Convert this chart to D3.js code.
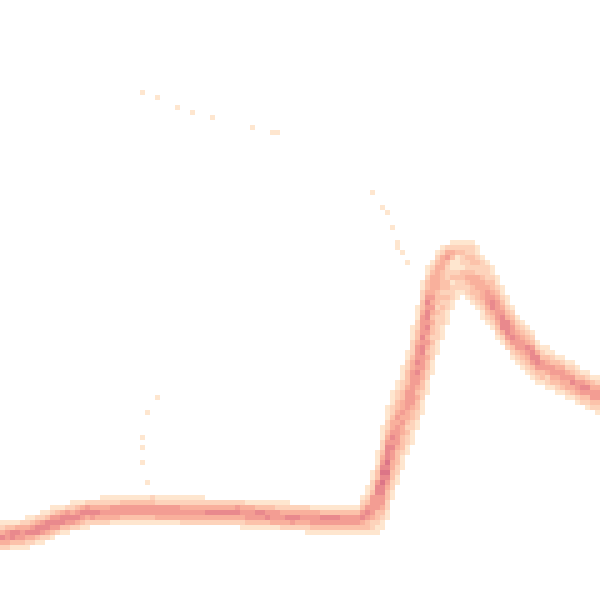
<!DOCTYPE html>
<html>
<head>
<meta charset="utf-8">
<script src="https://cdn.jsdelivr.net/npm/d3@7"></script>
<style>
  html, body { margin: 0; padding: 0; background: #ffffff; }
  svg { display: block; }
</style>
</head>
<body>
<svg id="chart" width="600" height="600"></svg>
<script>
// ---- DATA ----
// shared time stamps for the bundle of series
const times = [0, 6, 12, 18, 26, 36, 46, 56, 64, 72, 74, 76, 78, 80, 82, 84, 86, 88, 90, 92, 94, 96, 98, 102, 108, 114, 120];

const series1  = [10.5, 11.5, 13.9, 15.6, 16.0, 15.8, 15.6, 14.8, 14.2, 14.0, 14.1, 14.6, 21.6, 28.0, 32.6, 38.4, 47.5, 53.5, 60.0, 62.2, 60.8, 58.6, 56.4, 50.6, 44.0, 41.2, 37.9];
const series2  = [11.1, 12.1, 14.5, 16.2, 16.6, 16.4, 16.2, 15.4, 14.8, 14.6, 14.6, 16.5, 24.0, 30.3, 35.0, 41.3, 50.5, 57.0, 61.8, 63.2, 62.0, 59.8, 57.6, 51.4, 45.0, 42.0, 38.7];
const series3  = [11.7, 12.7, 15.1, 16.7, 17.1, 16.9, 16.7, 15.9, 15.3, 15.1, 15.6, 18.1, 26.0, 32.2, 37.0, 43.7, 53.5, 60.0, 63.4, 64.2, 63.4, 61.0, 58.6, 52.2, 45.8, 42.7, 39.4];
const series4  = [12.1, 13.1, 15.5, 17.1, 17.5, 17.3, 17.1, 16.3, 15.7, 15.5, 16.5, 19.6, 27.8, 33.9, 38.8, 45.8, 56.0, 62.2, 64.6, 64.8, 64.2, 62.2, 59.6, 52.8, 46.5, 43.4, 40.0];
const series5  = [12.4, 13.4, 15.8, 17.4, 17.8, 17.6, 17.4, 16.6, 16.0, 15.8, 17.1, 20.5, 29.0, 35.0, 40.0, 47.3, 58.0, 63.6, 65.2, 65.0, 64.6, 62.8, 60.2, 53.3, 47.0, 43.8, 40.4];
const series6  = [12.7, 13.7, 16.1, 17.7, 18.1, 17.9, 17.7, 16.9, 16.3, 16.1, 17.6, 21.3, 30.0, 36.0, 41.0, 48.5, 59.5, 64.8, 67.8, 67.0, 65.4, 63.2, 60.6, 53.8, 47.4, 44.1, 40.7];
const series7  = [13.0, 14.0, 16.4, 18.0, 18.4, 18.2, 18.0, 17.2, 16.6, 16.4, 18.1, 22.1, 31.0, 36.9, 42.0, 49.7, 60.8, 65.8, 69.2, 68.6, 66.6, 64.0, 61.4, 54.4, 47.8, 44.5, 41.1];
const series8  = [13.3, 14.3, 16.7, 18.3, 18.7, 18.5, 18.3, 17.5, 16.9, 16.7, 18.8, 23.2, 32.4, 38.3, 43.4, 51.4, 62.4, 66.6, 69.6, 69.6, 68.0, 65.2, 62.4, 55.2, 48.3, 45.0, 41.5];
const series9  = [13.9, 14.9, 17.3, 18.8, 19.2, 19.0, 18.8, 18.0, 17.4, 17.2, 19.8, 24.8, 34.4, 40.2, 45.4, 53.8, 64.2, 67.6, 70.0, 70.6, 69.6, 66.8, 64.0, 56.2, 49.1, 45.7, 42.2];
const series10 = [14.6, 15.6, 18.0, 19.5, 19.9, 19.7, 19.5, 18.7, 18.1, 17.9, 21.2, 27.1, 37.2, 42.8, 48.2, 57.1, 66.0, 68.6, 70.4, 71.2, 70.6, 68.4, 66.0, 57.6, 50.2, 46.7, 43.2];

// one stray series, recorded only at sparse samples: [time, value]
const outlierSamples = [
  [30.0, 21.0], [29.6, 24.0], [28.6, 27.2], [28.6, 31.0], [28.6, 33.0], [29.6, 37.4], [31.0, 40.6],
  [28.6, 101.4], [31.6, 100.0], [35.0, 99.0], [38.0, 98.0], [42.6, 96.6], [50.0, 94.8], [54.0, 93.8], [55.0, 93.8],
  [74.6, 81.0], [76.0, 79.0], [77.0, 77.0], [78.4, 74.0], [79.4, 72.0], [79.6, 70.6], [80.6, 69.4], [81.6, 67.6]
];

const bundle = [series1, series2, series3, series4, series5, series6, series7, series8, series9, series10];

// ---- CHART ----
const width = 600, height = 600, cell = 5, pen = 2;
const x = d3.scaleLinear().domain([0, 120]).range([0, width]);
const y = d3.scaleLinear().domain([0, 120]).range([height, 0]);

const cols = Math.ceil(width / cell), rows = Math.ceil(height / cell);
const counts = new Map();
function key(cx, cy) { return cx + "," + cy; }

// rasterize each series' line (with a narrow pen) into the bin grid; each series counts once per bin
bundle.forEach(vals => {
  const seen = new Set();
  const pts = times.map((t, i) => [x(t), y(vals[i])]);
  for (let i = 0; i < pts.length - 1; i++) {
    const [x0, y0] = pts[i], [x1, y1] = pts[i + 1];
    const len = Math.hypot(x1 - x0, y1 - y0);
    const nx = -(y1 - y0) / len, ny = (x1 - x0) / len;
    const steps = Math.max(1, Math.ceil(len / 0.5));
    for (let s = 0; s <= steps; s++) {
      const px = x0 + (x1 - x0) * s / steps;
      const py = y0 + (y1 - y0) * s / steps;
      for (let w = -pen; w <= pen; w += 0.5) {
        const qx = px + nx * w, qy = py + ny * w;
        const cx = Math.floor(qx / cell), cy = Math.floor(qy / cell);
        if (cx < 0 || cy < 0 || cx >= cols || cy >= rows) continue;
        seen.add(key(cx, cy));
      }
    }
  }
  seen.forEach(k => counts.set(k, (counts.get(k) || 0) + 1));
});

// the stray series contributes its sample points only
{
  const seen = new Set();
  outlierSamples.forEach(([t, v]) => {
    const cx = Math.floor(x(t) / cell), cy = Math.floor(y(v) / cell);
    seen.add(key(cx, cy));
  });
  seen.forEach(k => counts.set(k, (counts.get(k) || 0) + 1));
}

const bins = Array.from(counts, ([k, c]) => {
  const [cx, cy] = k.split(",").map(Number);
  return { cx, cy, c };
});
const maxC = d3.max(bins, d => d.c);

const color = d3.scaleSequentialPow()
  .exponent(0.75)
  .domain([1, maxC])
  .interpolator(d3.interpolateRgbBasis(["#fee6cf", "#fdd4bc", "#fcc2a8", "#f8aa98", "#ef928f", "#dc7587"]));

const svg = d3.select("#chart");
svg.append("rect").attr("width", width).attr("height", height).attr("fill", "#ffffff");

svg.append("g")
  .selectAll("rect")
  .data(bins)
  .join("rect")
  .attr("x", d => d.cx * cell)
  .attr("y", d => d.cy * cell)
  .attr("width", cell)
  .attr("height", cell)
  .attr("fill", d => color(d.c));
</script>
</body>
</html>
